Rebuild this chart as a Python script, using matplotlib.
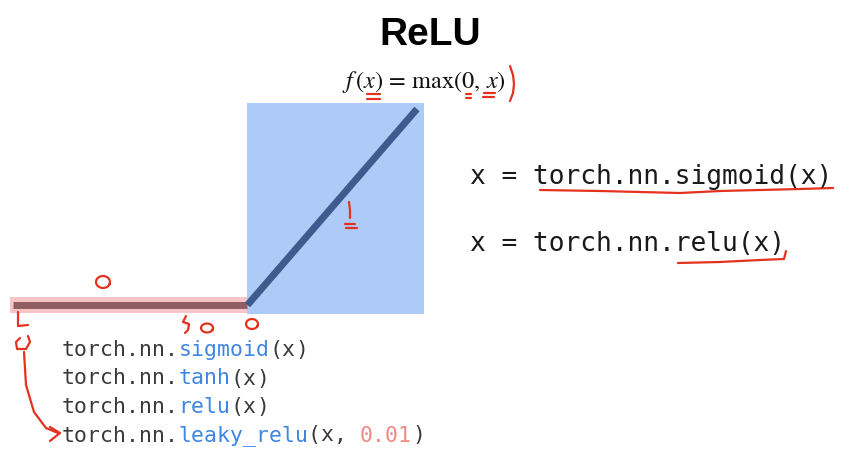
import matplotlib
matplotlib.use("Agg")
import matplotlib.pyplot as plt
import numpy as np

# ReLU curve data
relu_x = [-1.33, 0.0, 0.96]
relu_y = [0.0, 0.0, 1.0]
neg_span = (-1.345, 0.0)
pos_span = (0.0, 1.0)

title = "ReLU"
formula = r"$f\,(x)\,=\,\mathrm{max}(0,\,x)$"
right_code = ["x = torch.nn.sigmoid(x)", "x = torch.nn.relu(x)"]
# (prefix, function name, args, extra)
bottom_code = [("torch.nn.", "sigmoid", "(x", ")"),
               ("torch.nn.", "tanh", "(x", ")"),
               ("torch.nn.", "relu", "(x", ")"),
               ("torch.nn.", "leaky_relu", "(x, ", "0.01", ")")]

W, H = 848, 453
DPI = 100
fig = plt.figure(figsize=(W / DPI, H / DPI), dpi=DPI)
fig.patch.set_facecolor("white")

def px_rect(x0, y0, x1, y1):
    return [x0 / W, 1 - y1 / H, (x1 - x0) / W, (y1 - y0) / H]

# chart axes: blue box 247..424 px, 103..314 px
ax = fig.add_axes(px_rect(10, 103, 424, 314))
ax.set_xlim(-1.345, 1.0)
ax.set_ylim(-9 / 196, 202 / 196)
ax.axis("off")
ax.axvspan(pos_span[0], pos_span[1], color="#aecbf8", lw=0)
ax.fill_between([neg_span[0], neg_span[1]], -0.041, 0.041, color="#f7c5c5", lw=0)
ax.plot(relu_x[:2], relu_y[:2], color="#8e5e63", lw=5, solid_capstyle="butt")
ax.plot(relu_x[1:], relu_y[1:], color="#3d5b8c", lw=5, solid_capstyle="butt")

# overlay axes in pixel coordinates for text and annotations
ov = fig.add_axes([0, 0, 1, 1])
ov.set_xlim(0, W)
ov.set_ylim(H, 0)
ov.axis("off")
ov.patch.set_alpha(0)

ov.text(430, 45, title, ha="center", va="baseline", fontsize=28,
        fontweight="bold", family="Liberation Sans", color="black")

plt.rcParams["mathtext.fontset"] = "stix"
ov.text(424, 88, formula, ha="center", va="baseline", fontsize=17.5, color="#111111")

mono = "DejaVu Sans Mono"
ov.text(470, 184, right_code[0], ha="left", va="baseline", fontsize=18.9,
        family=mono, color="#1a1a1a")
ov.text(470, 251, right_code[1], ha="left", va="baseline", fontsize=18.9,
        family=mono, color="#1a1a1a")

fs = 15.5
cw = 0.602 * fs * DPI / 72
colors = ["#3a3a3a", "#3f86e0", "#3a3a3a", "#f08a84", "#3a3a3a"]
for i, parts in enumerate(bottom_code):
    x = 62
    y = 356 + i * 28.5
    for j, seg in enumerate(parts):
        c = colors[j] if len(parts) == 5 else ["#3a3a3a", "#3f86e0", "#3a3a3a", "#3a3a3a"][j]
        ov.text(x, y, seg, ha="left", va="baseline", fontsize=fs, family=mono, color=c)
        x += len(seg) * cw

# handwritten red annotations
red = "#e5321f"
def scribble(xs, ys, lw=1.6):
    ov.plot(xs, ys, color=red, lw=lw, solid_capstyle="round", solid_joinstyle="round")

def loop(cx, cy, rx, ry):
    t = np.linspace(0.3, 2 * np.pi + 0.5, 30)
    scribble(cx + rx * np.cos(t), cy + ry * np.sin(t))

# underlines right code
scribble([540, 600, 680, 720, 760, 800, 833], [190, 191, 193, 191, 190, 189, 188])
scribble([678, 720, 760, 784, 786], [263, 262, 260, 259, 251])
# bracket after formula
scribble([510, 513, 514, 513, 510], [66, 75, 84, 93, 101])
# marks under x's
scribble([367, 380], [94, 94]); scribble([367, 380], [99, 99])
scribble([466, 471], [94, 94]); scribble([466, 471], [98, 98])
scribble([484, 495], [93, 93]); scribble([483, 494], [97, 97])
# "1" on slope
scribble([349, 350, 350], [202, 210, 218]); scribble([345, 355], [224, 224])
scribble([346, 357], [228, 228])
# zeros
loop(103, 282, 7, 6)
loop(207, 328, 6, 4.5)
loop(252, 324, 6, 5)
scribble([186, 183, 189, 188, 185], [316, 322, 324, 330, 333])
# left arrow
scribble([18, 18, 28], [312, 326, 325])
scribble([20, 16, 17, 26, 30, 28], [338, 342, 349, 349, 342, 336])
scribble([24, 26, 34, 46, 58], [352, 385, 412, 428, 433])
scribble([50, 60, 50], [427, 433, 441])

fig.savefig("out.png", dpi=DPI, facecolor="white")
